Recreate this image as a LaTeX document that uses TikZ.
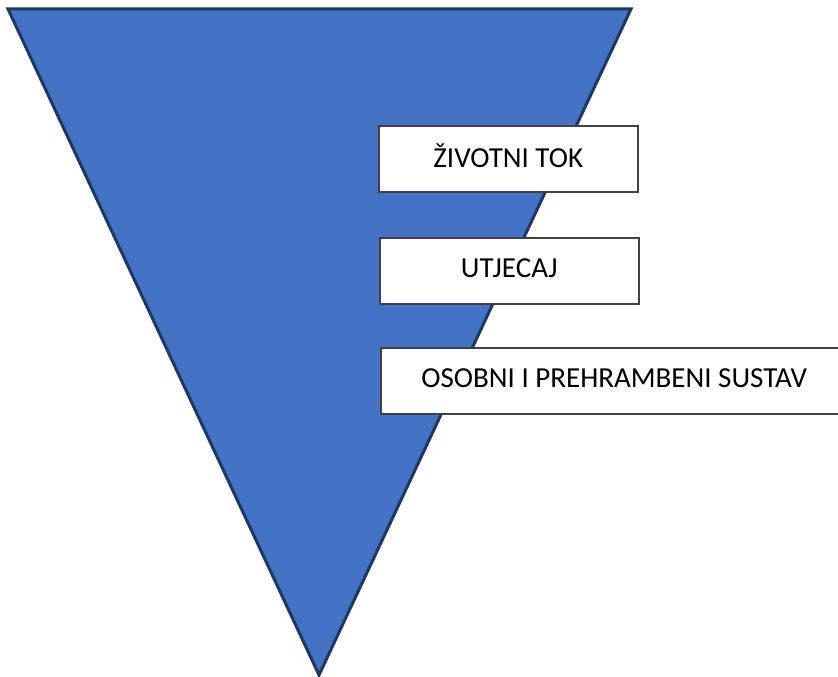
\documentclass[tikz,border=0pt]{standalone}
\usepackage{fontspec}
\setmainfont{Carlito}
\definecolor{funnelblue}{HTML}{4472C4}
\definecolor{funnelline}{HTML}{1F3763}
\definecolor{boxline}{HTML}{404040}
\tikzset{
  level/.style={draw=boxline, line width=1.5pt, fill=white, anchor=north west,
    minimum height=66pt, font=\fontsize{29}{34}\selectfont, inner sep=0pt,
    text depth=6pt}
}
\begin{document}
\begin{tikzpicture}[x=1pt, y=-1pt]
        % Frame
        \path[use as bounding box, clip] (0, 0) rectangle (838, 677);

        % Funnel
        \draw[funnelline, fill=funnelblue, line width=3pt, line join=miter]
            (8, 9) -- (631, 9) -- (319, 675) -- cycle;

        % Levels
        \node[level, minimum width=259pt] (tok) at (378, 125) {ŽIVOTNI TOK};
        \node[level, minimum width=259pt] (utjecaj) at (379, 237) {UTJECAJ};
        \node[level, minimum width=467pt] (sustav) at (380, 347) {OSOBNI I PREHRAMBENI SUSTAV};
    \end{tikzpicture}
\end{document}
